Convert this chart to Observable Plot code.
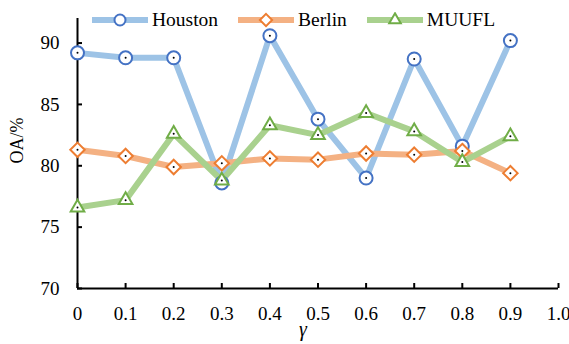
<!DOCTYPE html>
<html>
<head>
<meta charset="utf-8">
<script src="https://cdn.jsdelivr.net/npm/d3@7"></script>
<script src="https://cdn.jsdelivr.net/npm/@observablehq/plot@0.6"></script>
<style>
  html, body { margin: 0; padding: 0; background: #fff; }
  #wrap { position: relative; width: 569px; height: 344px; font-family: "Liberation Serif", "Times New Roman", serif; }
  #legend { position: absolute; left: 92px; top: 9px; display: flex; align-items: center; font-size: 19.5px; color: #000; }
  #legend .item { display: flex; align-items: center; margin-right: 20px; }
  #legend svg { display: block; margin-right: 4px; }
</style>
</head>
<body>
<div id="wrap"><div id="legend"></div></div>
<script>
// γ values on the horizontal axis
const gamma = [0, 0.1, 0.2, 0.3, 0.4, 0.5, 0.6, 0.7, 0.8, 0.9];
// overall accuracy (%) per dataset
const houston = [89.2, 88.8, 88.8, 78.6, 90.6, 83.8, 79.0, 88.7, 81.6, 90.2];
const berlin  = [81.3, 80.8, 79.9, 80.2, 80.6, 80.5, 81.0, 80.9, 81.2, 79.4];
const muufl   = [76.6, 77.2, 82.6, 78.8, 83.3, 82.5, 84.3, 82.8, 80.3, 82.4];
// axis ticks
const xTicks = [0, 0.1, 0.2, 0.3, 0.4, 0.5, 0.6, 0.7, 0.8, 0.9, 1.0];
const yTicks = [70, 75, 80, 85, 90];

const series = [
  {name: "Houston", values: houston, line: "#9DC3E6", edge: "#4472C4", symbol: "circle",    d3sym: d3.symbolCircle},
  {name: "Berlin",  values: berlin,  line: "#F4B183", edge: "#ED7D31", symbol: "diamond2",  d3sym: d3.symbolDiamond2},
  {name: "MUUFL",   values: muufl,   line: "#A9D18E", edge: "#70AD47", symbol: "triangle2", d3sym: d3.symbolTriangle2}
];

const rowsOf = s => gamma.map((g, i) => ({series: s.name, gamma: g, oa: s.values[i]}));
const R = 6.5;

const marks = [
  Plot.ruleX([0], {stroke: "#000", strokeWidth: 2}),
  Plot.ruleY([70], {stroke: "#000", strokeWidth: 2}),
  Plot.axisX(xTicks, {
    tickSize: -5, tickPadding: 23, strokeWidth: 2,
    tickFormat: d => d === 0 ? "0" : d.toFixed(1),
    label: null
  }),
  Plot.axisY(yTicks, {
    tickSize: -5, tickPadding: 23, strokeWidth: 2,
    tickFormat: d => String(d),
    label: null
  }),
  Plot.text(["OA/%"], {frameAnchor: "left", dx: -60, dy: 10, rotate: -90, fontSize: 18}),
  Plot.text(["γ"], {frameAnchor: "bottom", dx: -15, dy: 47, fontStyle: "italic", fontSize: 20})
];

for (const s of series) {
  marks.push(Plot.line(rowsOf(s), {x: "gamma", y: "oa", stroke: s.line, strokeWidth: 6, strokeLinecap: "butt"}));
}
for (const s of series) {
  marks.push(Plot.dot(rowsOf(s), {x: "gamma", y: "oa", symbol: s.symbol, r: R, fill: "#fff", stroke: s.edge, strokeWidth: 2}));
  marks.push(Plot.dot(rowsOf(s), {x: "gamma", y: "oa", r: 1, fill: "#000"}));
}

const chart = Plot.plot({
  width: 569,
  height: 344,
  marginLeft: 77,
  marginRight: 11,
  marginTop: 18,
  marginBottom: 56,
  x: {domain: [0, 1]},
  y: {domain: [70, 92]},
  style: {fontFamily: "Liberation Serif, Times New Roman, serif", fontSize: "19px", color: "#000", background: "#fff"},
  marks
});
document.getElementById("wrap").prepend(chart);
chart.style.position = "absolute";
chart.style.left = "0";
chart.style.top = "0";

// legend: line swatch with marker, then name
const legend = d3.select("#legend");
for (const s of series) {
  const item = legend.append("div").attr("class", "item");
  const sw = item.append("svg").attr("width", 56).attr("height", 16);
  sw.append("line").attr("x1", 0).attr("x2", 56).attr("y1", 8).attr("y2", 8)
    .attr("stroke", s.line).attr("stroke-width", 6);
  sw.append("path").attr("transform", "translate(28,8)")
    .attr("d", d3.symbol(s.d3sym, Math.PI * 5.5 * 5.5)())
    .attr("fill", "#fff").attr("stroke", s.edge).attr("stroke-width", 2);
  item.append("span").text(s.name);
}
</script>
</body>
</html>
